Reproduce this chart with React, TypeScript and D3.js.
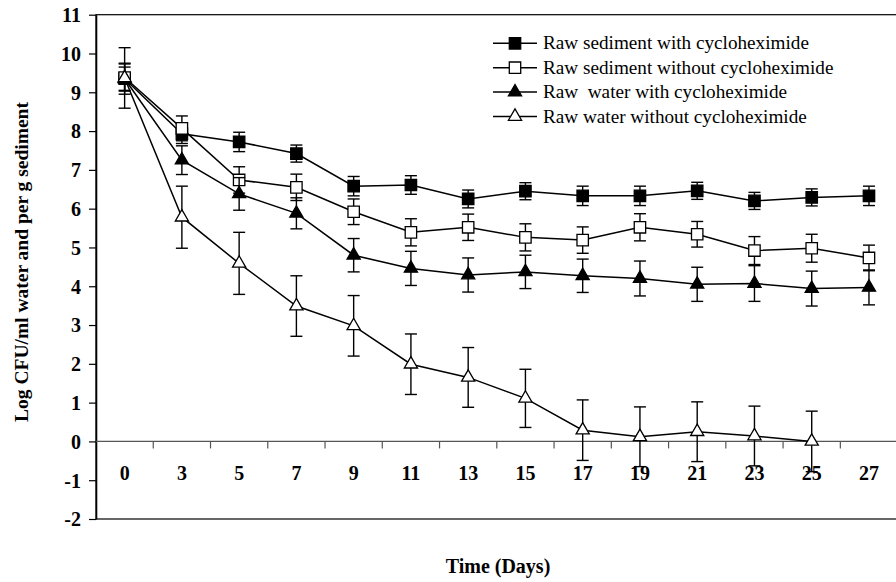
import React, { useEffect, useRef } from "react";
import * as d3 from "d3";

// sampling days (categories)
const days = ["0", "3", "5", "7", "9", "11", "13", "15", "17", "19", "21", "23", "25", "27"];

// Log CFU values
const sedWith = [9.35, 7.93, 7.72, 7.42, 6.58, 6.61, 6.25, 6.45, 6.33, 6.33, 6.46, 6.2, 6.29, 6.33];
const sedWithErr = [0.3, 0.25, 0.25, 0.22, 0.25, 0.24, 0.23, 0.22, 0.25, 0.25, 0.22, 0.22, 0.22, 0.25];
const sedWithout = [9.38, 8.07, 6.74, 6.55, 5.92, 5.39, 5.52, 5.26, 5.19, 5.52, 5.34, 4.92, 4.98, 4.73];
const sedWithoutErr = [0.35, 0.32, 0.34, 0.34, 0.33, 0.35, 0.34, 0.35, 0.34, 0.35, 0.33, 0.36, 0.36, 0.33];
const waterWith = [9.35, 7.25, 6.38, 5.88, 4.8, 4.46, 4.29, 4.37, 4.27, 4.2, 4.05, 4.07, 3.94, 3.97];
const waterWithErr = [0.4, 0.37, 0.42, 0.4, 0.43, 0.44, 0.44, 0.43, 0.43, 0.45, 0.44, 0.46, 0.45, 0.45];
const waterWithout = [9.37, 5.78, 4.59, 3.49, 2.98, 1.99, 1.65, 1.11, 0.29, 0.12, 0.25, 0.14, 0.0, null];
const waterWithoutErr = [0.78, 0.8, 0.8, 0.78, 0.78, 0.78, 0.77, 0.75, 0.78, 0.77, 0.77, 0.77, 0.78, null];

const legendNames = [
  "Raw sediment with cycloheximide",
  "Raw sediment without cycloheximide",
  "Raw  water with cycloheximide",
  "Raw water without cycloheximide",
];

const yTicks = d3.range(-2, 12);

const FONT = "'Liberation Serif', 'Times New Roman', serif";

export default function App() {
  const ref = useRef<SVGSVGElement>(null);

  useEffect(() => {
    const svg = d3.select(ref.current);
    svg.selectAll("*").remove();

    const left = 96, right = 897.6, top = 14.7, bottom = 519;

    const x = d3.scaleBand<string>().domain(days).range([left, right]);
    const y = d3.scaleLinear().domain([-2, 11]).range([bottom, top]);
    const cx = (d: string) => (x(d) as number) + x.bandwidth() / 2;

    // plot frame
    svg.append("rect")
      .attr("x", left).attr("y", top)
      .attr("width", right - left).attr("height", bottom - top)
      .attr("fill", "none").attr("stroke", "#000").attr("stroke-width", 1.2);

    // y axis
    const yAxis = svg.append("g")
      .attr("transform", `translate(${left},0)`)
      .call(d3.axisLeft(y).tickValues(yTicks).tickSize(7).tickSizeOuter(0).tickPadding(8)
        .tickFormat(d => String(d)));
    yAxis.select(".domain").attr("stroke-width", 1.6);
    yAxis.selectAll(".tick line").attr("stroke-width", 1.2);
    yAxis.selectAll("text")
      .attr("font-family", FONT).attr("font-size", 20).attr("font-weight", "bold").attr("fill", "#000")
      .attr("dy", "0.34em");

    // zero line with category ticks
    svg.append("line")
      .attr("x1", left).attr("x2", right)
      .attr("y1", y(0)).attr("y2", y(0))
      .attr("stroke", "#555").attr("stroke-width", 1.3);
    svg.selectAll(".xtick")
      .data(days.slice(1))
      .enter().append("line")
      .attr("x1", d => x(d) as number).attr("x2", d => x(d) as number)
      .attr("y1", y(0)).attr("y2", y(0) + 7)
      .attr("stroke", "#555").attr("stroke-width", 1.2);
    svg.selectAll(".xlabel")
      .data(days)
      .enter().append("text")
      .attr("x", d => cx(d)).attr("y", 479.5)
      .attr("text-anchor", "middle")
      .attr("font-family", FONT).attr("font-size", 20).attr("font-weight", "bold")
      .text(d => d);

    const series = [
      { vals: sedWith, err: sedWithErr, shape: d3.symbolSquare, size: 130, fill: "#000" },
      { vals: sedWithout, err: sedWithoutErr, shape: d3.symbolSquare, size: 130, fill: "#fff" },
      { vals: waterWith, err: waterWithErr, shape: d3.symbolTriangle, size: 75, fill: "#000" },
      { vals: waterWithout, err: waterWithoutErr, shape: d3.symbolTriangle, size: 75, fill: "#fff" },
    ];

    const line = d3.line<number | null>()
      .defined(v => v != null)
      .x((v, i) => cx(days[i]))
      .y(v => y(v as number));

    series.forEach(s => {
      const g = svg.append("g");
      const pts = s.vals
        .map((v, i) => ({ day: days[i], v, e: s.err[i] }))
        .filter(p => p.v != null) as { day: string; v: number; e: number }[];

      // error bars
      const eb = g.selectAll(".eb").data(pts).enter().append("g")
        .attr("stroke", "#000").attr("stroke-width", 1.4);
      eb.append("line")
        .attr("x1", p => cx(p.day)).attr("x2", p => cx(p.day))
        .attr("y1", p => y(p.v + p.e)).attr("y2", p => y(p.v - p.e));
      eb.append("line")
        .attr("x1", p => cx(p.day) - 6).attr("x2", p => cx(p.day) + 6)
        .attr("y1", p => y(p.v + p.e)).attr("y2", p => y(p.v + p.e));
      eb.append("line")
        .attr("x1", p => cx(p.day) - 6).attr("x2", p => cx(p.day) + 6)
        .attr("y1", p => y(p.v - p.e)).attr("y2", p => y(p.v - p.e));

      g.append("path")
        .datum(s.vals)
        .attr("fill", "none").attr("stroke", "#000").attr("stroke-width", 1.5)
        .attr("d", line);

      g.selectAll(".mk").data(pts).enter().append("path")
        .attr("transform", p => `translate(${cx(p.day)},${y(p.v)})`)
        .attr("d", d3.symbol().type(s.shape).size(s.size)())
        .attr("fill", s.fill).attr("stroke", "#000").attr("stroke-width", 1.3);
    });

    // legend
    const lg = svg.append("g");
    series.forEach((s, i) => {
      const ly = 43.3 + i * 24.4;
      lg.append("line")
        .attr("x1", 493).attr("x2", 537).attr("y1", ly).attr("y2", ly)
        .attr("stroke", "#000").attr("stroke-width", 1.5);
      lg.append("path")
        .attr("transform", `translate(515,${ly})`)
        .attr("d", d3.symbol().type(s.shape).size(s.size)())
        .attr("fill", s.fill).attr("stroke", "#000").attr("stroke-width", 1.3);
      lg.append("text")
        .attr("x", 543).attr("y", ly + 6)
        .attr("font-family", FONT).attr("font-size", 19.2)
        .style("white-space", "pre")
        .text(legendNames[i]);
    });

    // axis titles
    svg.append("text")
      .attr("transform", `translate(28,262) rotate(-90)`)
      .attr("text-anchor", "middle")
      .attr("font-family", FONT).attr("font-size", 19.5).attr("font-weight", "bold")
      .text("Log CFU/ml water and per g sediment");
    svg.append("text")
      .attr("x", 498).attr("y", 572.5)
      .attr("text-anchor", "middle")
      .attr("font-family", FONT).attr("font-size", 20).attr("font-weight", "bold")
      .text("Time (Days)");
  }, []);

  return (
    <svg
      ref={ref}
      width={896}
      height={582}
      style={{ position: "absolute", left: 0, top: 0, background: "#fff", display: "block" }}
    />
  );
}
